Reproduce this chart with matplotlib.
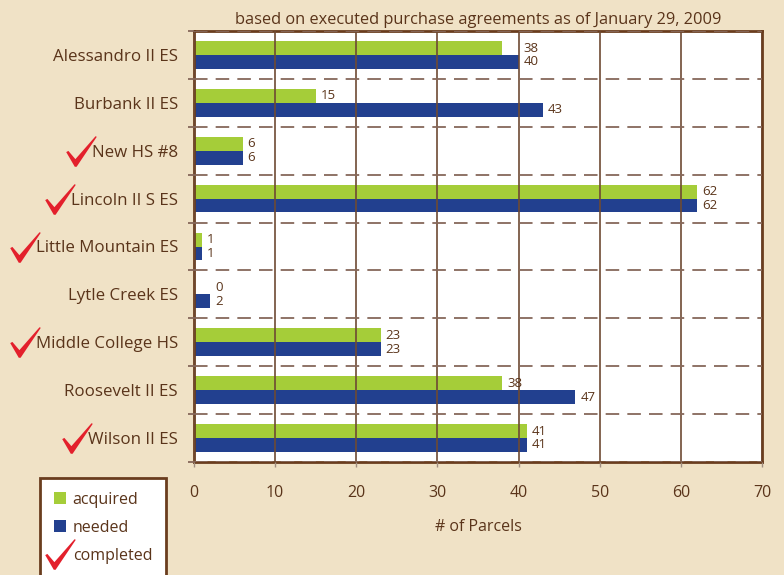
import numpy as np
import matplotlib
matplotlib.use("Agg")
import matplotlib.pyplot as plt
from matplotlib.patches import Patch
from matplotlib.lines import Line2D
from matplotlib.path import Path

schools = ["Alessandro II ES", "Burbank II ES", "New HS #8", "Lincoln II S ES",
           "Little Mountain ES", "Lytle Creek ES", "Middle College HS",
           "Roosevelt II ES", "Wilson II ES"]
acquired = [38, 15, 6, 62, 1, 0, 23, 38, 41]
needed = [40, 43, 6, 62, 1, 2, 23, 47, 41]
completed = [False, False, True, True, True, False, True, False, True]

bg = '#f0e2c6'
brown = '#5a341a'
green = '#a5cd39'
blue = '#22408f'
red = '#e3202c'

plt.rcParams['font.family'] = ['Open Sans', 'DejaVu Sans']
plt.rcParams['font.weight'] = 'medium'

# red check mark shape, centred on 0
verts = np.array([(0.00, 0.48), (0.07, 0.52), (0.30, 0.25), (0.96, 1.00),
                  (1.00, 0.98), (0.34, 0.00), (0.28, 0.00), (0.00, 0.48)])
verts = verts - 0.5
check = Path(verts, closed=True)

fig = plt.figure(figsize=(7.84, 5.75), dpi=100, facecolor=bg)
ax = fig.add_axes([194/784, 1-462/575, 568/784, 431/575])
ax.set_facecolor('white')

y = np.arange(len(schools))
h = 0.29
ax.barh(y - h/2, acquired, height=h, color=green, zorder=1)
ax.barh(y + h/2, needed, height=h, color=blue, zorder=1)

for i in range(len(schools)):
    # keep the top label clear of a slightly longer bar underneath
    xa = acquired[i]
    if 0 < needed[i] - acquired[i] < 4:
        xa = needed[i]
    ax.annotate(str(acquired[i]), xy=(xa, y[i] - h/2), xytext=(5, 0),
                textcoords='offset pixels', va='center', ha='left',
                fontsize=9.5, color=brown)
    ax.annotate(str(needed[i]), xy=(needed[i], y[i] + h/2), xytext=(5, 0),
                textcoords='offset pixels', va='center', ha='left',
                fontsize=9.5, color=brown)

ax.set_xlim(0, 70)
ax.set_ylim(len(schools) - 0.5, -0.5)
ax.set_xticks(np.arange(0, 71, 10))
ax.set_yticks(y)
ax.set_yticklabels(schools)
ax.set_yticks(np.arange(-0.5, len(schools), 1), minor=True)

ax.set_axisbelow(False)
ax.grid(axis='x', which='major', color='#6e4a33', linewidth=1.2)
ax.grid(axis='y', which='minor', color='#86685a', linewidth=1.3,
        linestyle=(0, (7.5, 4.5)))
ax.grid(axis='y', which='major', visible=False)

ax.tick_params(axis='y', which='major', length=0, pad=11.5, labelsize=12.2,
               labelcolor=brown)
ax.tick_params(axis='y', which='minor', length=4.5, width=1.3, color='#86685a')
ax.tick_params(axis='x', which='major', length=3.6, width=1, color='#a08e80',
               pad=13, labelsize=11.5, labelcolor=brown)

for s in ax.spines.values():
    s.set_color('#6a3d1e')
    s.set_linewidth(2)

ax.set_title('based on executed purchase agreements as of January 29, 2009',
             fontsize=11.8, color=brown, pad=5)
ax.set_xlabel('# of Parcels', fontsize=11.5, color=brown, labelpad=13)

handles = [Patch(facecolor=green, label='acquired'),
           Patch(facecolor=blue, label='needed'),
           Line2D([], [], linestyle='none', marker=check, markersize=22,
                  color=red, markeredgewidth=0, label='completed')]
leg = ax.legend(handles=handles, loc='upper left',
                bbox_to_anchor=(40/784, 1-478/575), bbox_transform=fig.transFigure,
                frameon=True, fancybox=False, framealpha=1, facecolor='white',
                edgecolor='#6a3d1e', fontsize=11.5, handlelength=0.8,
                handleheight=0.8, handletextpad=0.4, borderpad=0.85,
                labelspacing=0.75, borderaxespad=0)
leg.get_frame().set_linewidth(2)
for t in leg.get_texts():
    t.set_color(brown)

# check marks in front of completed school names
fig.canvas.draw()
inv = fig.transFigure.inverted()
for lab, done in zip(ax.get_yticklabels(), completed):
    if done:
        bb = lab.get_window_extent()
        fx, fy = inv.transform((bb.x0 - 11, (bb.y0 + bb.y1)/2 + 2))
        fig.add_artist(Line2D([fx], [fy], linestyle='none', marker=check,
                              markersize=22, color=red, markeredgewidth=0,
                              transform=fig.transFigure))

fig.savefig('out.png', dpi=100, facecolor=bg)
